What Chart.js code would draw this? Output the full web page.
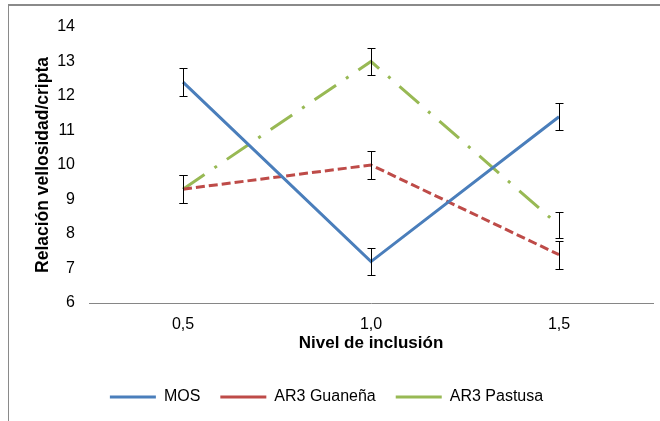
<!DOCTYPE html>
<html>
<head>
<meta charset="utf-8">
<script src="https://cdn.jsdelivr.net/npm/chart.js@4/dist/chart.umd.min.js"></script>
<style>
  body { margin: 0; background: #fff; }
  #wrap { position: relative; width: 660px; height: 421px; overflow: hidden; }
  #frame { position: absolute; left: 8px; top: 4px; width: 700px; height: 500px;
           border-left: 1px solid #8a8a8a; border-top: 2px solid #8a8a8a; }
  canvas { position: absolute; left: 0; top: 0; }
</style>
</head>
<body>
<div id="wrap">
  <div id="frame"></div>
  <canvas id="myChart" width="660" height="421"></canvas>
</div>
<script>
    // inclusion levels and mean ratio per treatment, with +/- error
    let categories = ['0,5', '1,0', '1,5'];
    let mos = [12.4, 7.2, 11.4];
    let mosErr = [0.4, 0.38, 0.39];
    let guanena = [9.3, 10.0, 7.4];
    let guanenaErr = [0.4, 0.4, 0.4];
    let pastusa = [9.3, 13.0, 8.25];
    let pastusaErr = [0.4, 0.38, 0.38];
    let yMin = 6, yMax = 14, yStep = 1;

    Chart.defaults.font.family = '"Liberation Sans", Arial, sans-serif';
    Chart.defaults.color = '#000';

    // black whiskers with caps, drawn on top of the lines
    let errorBars = {
        id: 'errorBars',
        afterDatasetsDraw(chart) {
            let ctx = chart.ctx;
            let x = chart.scales.x, y = chart.scales.y;
            ctx.save();
            ctx.strokeStyle = '#000';
            ctx.lineWidth = 1;
            chart.data.datasets.forEach(ds => {
                ds.data.forEach((v, i) => {
                    let px = Math.round(x.getPixelForValue(i)) + 0.5;
                    let top = Math.round(y.getPixelForValue(v + ds.errors[i])) + 0.5;
                    let bot = Math.round(y.getPixelForValue(v - ds.errors[i])) + 0.5;
                    ctx.beginPath();
                    ctx.moveTo(px, top); ctx.lineTo(px, bot);
                    ctx.moveTo(px - 4, top); ctx.lineTo(px + 4, top);
                    ctx.moveTo(px - 4, bot); ctx.lineTo(px + 4, bot);
                    ctx.stroke();
                });
            });
            ctx.restore();
        }
    };

    let ctx = document.getElementById('myChart').getContext('2d');
    let myChart = new Chart(ctx, {
        type: 'line',
        data: {
            labels: categories,
            datasets: [{
                label: 'MOS',
                data: mos,
                errors: mosErr,
                borderColor: '#4A7EBB',
                borderWidth: 3
            }, {
                label: 'AR3 Guaneña',
                data: guanena,
                errors: guanenaErr,
                borderColor: '#BE4B48',
                borderWidth: 3,
                borderDash: [9, 4]
            }, {
                label: 'AR3 Pastusa',
                data: pastusa,
                errors: pastusaErr,
                borderColor: '#98B954',
                borderWidth: 3,
                borderDash: [26, 12, 3, 12]
            }]
        },
        options: {
            responsive: false,
            animation: false,
            elements: {
                point: { radius: 0, hoverRadius: 0 },
                line: { tension: 0, fill: false }
            },
            layout: { padding: { top: 27, right: 7, left: 0, bottom: 6 } },
            scales: {
                x: {
                    type: 'category',
                    offset: true,
                    grid: { display: false, drawTicks: false },
                    border: { display: true, color: '#868686', width: 1 },
                    ticks: { font: { size: 16 }, padding: 12 },
                    title: {
                        display: true,
                        text: 'Nivel de inclusión',
                        font: { size: 17, weight: 'bold' },
                        padding: { top: 0, bottom: 15 }
                    },
                    afterFit(scale) { scale.height = 66; }
                },
                y: {
                    min: yMin,
                    max: yMax,
                    grid: { display: false, drawTicks: false },
                    border: { display: false },
                    ticks: { stepSize: yStep, font: { size: 16 }, padding: 14 },
                    title: {
                        display: true,
                        text: 'Relación vellosidad/cripta',
                        font: { size: 17.5, weight: 'bold' },
                        padding: { top: 33, bottom: 0 }
                    },
                    afterFit(scale) { scale.width = 89; }
                }
            },
            plugins: {
                tooltip: { enabled: false },
                legend: {
                    position: 'bottom',
                    maxHeight: 54,
                    labels: {
                        usePointStyle: true,
                        pointStyle: 'line',
                        pointStyleWidth: 46,
                        padding: 20,
                        font: { size: 16 }
                    }
                }
            }
        },
        plugins: [errorBars]
    });
</script>
</body>
</html>
